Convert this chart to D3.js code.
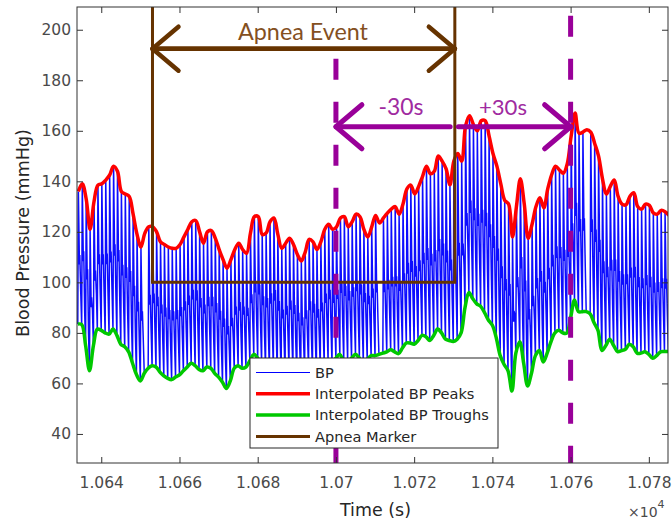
<!DOCTYPE html>
<html><head><meta charset="utf-8">
<script src="https://cdn.jsdelivr.net/npm/d3@7"></script>
<style>body{margin:0;background:#fff} svg{display:block}</style>
</head><body><svg id="c" width="672" height="523"></svg>
<script>
// ---------- data ----------
const beatStart = 10634;           // time of first beat (s), one beat per second
const peaks = [
 136,139,133,121,132,138.5,139,140.5,142.5,146,
 144,136,135,134,127,119,114,119.5,122,122,
 120,116,115,114,113.5,113.5,115,118,121,124,
 124.5,120,115.5,120,120.5,117.5,113,109,105.6,109,
 113,115.5,113,111.5,119.5,126,126,119,119.5,124,
 125.5,119,113.5,115.5,117.5,115,111,108.5,112,117,
 116,113,116,121,123,121,122,125.5,126,122,
 124,127,126,121,118,122,126.5,123.5,125.5,127.4,
 129,130,127,131,137,138.5,135,138,142,146,
 143,144,150,148,145,138.6,148,151,148,162,
 166,162.5,160,164,164,158,151,146,139,132.5,
 131,118,130,141,131,117.5,123,130,133.5,129.5,
 137,142.6,146,144.5,143.2,147,158,167,159,159.5,
 160.4,159.5,155,150,141,135,138,140.5,134,131,
 130.7,134,135.5,130,129,131,130.5,127.5,127,128.5,
 128,126.5];
const troughs = [
 83.5,83.3,75,65,75,81.5,81,80,79.5,81.5,
 79,75.5,74.5,72.5,68,63.5,61,64,66,67,
 66.5,64.5,63,62,61.5,62.5,63.4,65,66.5,68,
 67,65.5,65,66.5,66,64,62.5,60.5,58,61,
 66,67,66,66.5,69,71.5,70,68,66,65,
 66,64,63,64,66,65,63,62,64,66,
 65,64,66,68,69,68,70,71.5,69,69,
 70,71.5,70,68.5,69.5,71,71,71.5,72,72.5,
 73.3,72.5,71.8,74,76,76,75.5,77,79,78.5,
 77,79,81.5,80,77.5,77,76.6,77.5,80,90,
 96,93.5,91.5,90.5,88,85,83,78,71,67.5,
 65,57,72,76.5,68,59,64,71,73,68.5,
 72,76.6,80,81,80,79.9,86,93,88.4,88.4,
 88.4,87.5,84,81,73,75,77.5,75,72.6,73,
 73.5,75.5,74.5,72,72,72.5,71.5,70,71,72.5,
 72.6,72.6];
const gapBeats = [10651, 10711, 10764];
const apneaTimes = [10653.1, 10730.4];
const apneaBase = 100;
const apneaArrowLevel = 192.5;
const shiftTimes = [10700, 10760];
const shiftTop = [188.5, 205.5];
const shiftArrowLevel = 161.6;
const xTicks = [10640,10660,10680,10700,10720,10740,10760,10780];
const xTickLabels = ["1.064","1.066","1.068","1.07","1.072","1.074","1.076","1.078"];
const yTicks = [40,60,80,100,120,140,160,180,200];
const legendLabels = ["BP","Interpolated BP Peaks","Interpolated BP Troughs","Apnea Marker"];

// ---------- setup ----------
const svg = d3.select("#c");
const L=77, R=668, T=7, B=463;
const x = d3.scaleLinear().domain([10633.8,10784.9]).range([L,R]);
const y = d3.scaleLinear().domain([28.5,209]).range([B,T]);
const FONT = "'DejaVu Sans', Arial, sans-serif";
const AX = "#333";
const C = {bp:"#0000ff", pk:"#ff0000", tr:"#00c800", ap:"#663300", sh:"#990099"};

svg.append("defs").append("clipPath").attr("id","clip")
  .append("rect").attr("x",L).attr("y",T).attr("width",R-L).attr("height",B-T);
const plot = svg.append("g").attr("clip-path","url(#clip)");

// ---------- BP waveform ----------
const bpPts = [];
peaks.forEach((p,i)=>{
  const t = beatStart + i, tr = troughs[i];
  if (gapBeats.includes(t)) { bpPts.push({gap:true}); return; }
  const nt = i+1 < troughs.length ? troughs[i+1] : tr;
  bpPts.push({t:t, v:tr});
  bpPts.push({t:t+0.15, v:p});
  bpPts.push({t:t+0.3, v:tr+0.7*(p-tr)});
  bpPts.push({t:t+0.42, v:tr+0.45*(p-tr)});
  bpPts.push({t:t+0.52, v:tr+0.52*(p-tr)});
  bpPts.push({t:t+0.75, v:nt+0.25*(p-tr)});
  if (i+1 < troughs.length) bpPts.push({t:t+0.99, v:nt});
});
plot.append("path").datum(bpPts)
  .attr("d", d3.line().defined(d=>!d.gap).x(d=>x(d.t)).y(d=>y(d.v)))
  .attr("fill","none").attr("stroke",C.bp).attr("stroke-width",1.5).attr("stroke-opacity",0.95);

// ---------- envelopes ----------
const curve = d3.curveCatmullRom.alpha(0.5);
plot.append("path").datum(peaks)
  .attr("d", d3.line().curve(curve).x((d,i)=>x(beatStart+i+0.15)).y(d=>y(d)))
  .attr("fill","none").attr("stroke",C.pk).attr("stroke-width",3.5).attr("stroke-linejoin","round");
plot.append("path").datum(troughs)
  .attr("d", d3.line().curve(curve).x((d,i)=>x(beatStart+i)).y(d=>y(d)))
  .attr("fill","none").attr("stroke",C.tr).attr("stroke-width",3.5).attr("stroke-linejoin","round");

// ---------- apnea marker ----------
plot.append("path")
  .datum([[apneaTimes[0],230],[apneaTimes[0],apneaBase],[apneaTimes[1],apneaBase],[apneaTimes[1],230]])
  .attr("d", d3.line().x(d=>x(d[0])).y(d=>y(d[1])))
  .attr("fill","none").attr("stroke",C.ap).attr("stroke-width",3);

// ---------- shift dashed lines ----------
shiftTimes.forEach((t,i)=>{
  svg.append("line").attr("x1",x(t)).attr("x2",x(t)).attr("y1",y(shiftTop[i])).attr("y2",B)
    .attr("stroke",C.sh).attr("stroke-width",5).attr("stroke-dasharray","21,22");
});

// ---------- arrows ----------
function arrow(x0, x1, yy, color, w){ // from x0 to tip x1
  const g = svg.append("g").attr("fill","none").attr("stroke",color).attr("stroke-width",w)
    .attr("stroke-linecap","round").attr("stroke-linejoin","round");
  g.append("line").attr("x1",x0).attr("x2",x1).attr("y1",yy).attr("y2",yy);
  const s = x1 > x0 ? -1 : 1;
  g.append("path").attr("d",`M${x1+s*26},${yy-22}L${x1},${yy}L${x1+s*26},${yy+22}`);
}
const ay = y(apneaArrowLevel);
arrow(x(apneaTimes[1]), x(apneaTimes[0]), ay, C.ap, 4.5);
arrow(x(apneaTimes[0]), x(apneaTimes[1]), ay, C.ap, 4.5);
const sy = y(shiftArrowLevel);
arrow(x(apneaTimes[0]+76.1), x(shiftTimes[0]), sy, C.sh, 5);
arrow(x(apneaTimes[1]+0.9), x(shiftTimes[1]), sy, C.sh, 5);

function fitText(sel, w){
  const n = sel.node(); const cur = n.getComputedTextLength();
  const fs = parseFloat(sel.attr("font-size"));
  sel.attr("font-size", fs*w/cur);
  return sel;
}
const AF = "Lato, 'Open Sans', sans-serif";
fitText(svg.append("text").attr("x",303).attr("y",40).attr("text-anchor","middle")
  .attr("font-family",AF).attr("font-size",20).attr("fill","#84501f").text("Apnea Event"),130);
fitText(svg.append("text").attr("x",401).attr("y",115).attr("text-anchor","middle")
  .attr("font-family",AF).attr("font-size",20).attr("fill","#a02aa0").text("-30s"),45);
fitText(svg.append("text").attr("x",503).attr("y",115).attr("text-anchor","middle")
  .attr("font-family",AF).attr("font-size",20).attr("fill","#a02aa0").text("+30s"),48);

// ---------- axes ----------
const gx = svg.append("g").attr("transform",`translate(0,${B})`)
  .call(d3.axisBottom(x).tickValues(xTicks).tickFormat((d,i)=>xTickLabels[i])
    .tickSizeInner(-6).tickSizeOuter(0).tickPadding(14));
const gxt = svg.append("g").attr("transform",`translate(0,${T})`)
  .call(d3.axisTop(x).tickValues(xTicks).tickFormat("").tickSizeInner(-6).tickSizeOuter(0));
const gy = svg.append("g").attr("transform",`translate(${L},0)`)
  .call(d3.axisLeft(y).tickValues(yTicks).tickSizeInner(-6).tickSizeOuter(0).tickPadding(6));
const gyr = svg.append("g").attr("transform",`translate(${R},0)`)
  .call(d3.axisRight(y).tickValues(yTicks).tickFormat("").tickSizeInner(-6).tickSizeOuter(0));
[gx,gxt,gy,gyr].forEach(g=>{
  g.select(".domain").remove();
  g.selectAll("line").attr("stroke",AX);
  g.selectAll("text").attr("font-family",FONT).attr("font-size",15.5).attr("fill","#4a4a4a");
});
svg.append("rect").attr("x",L).attr("y",T).attr("width",R-L).attr("height",B-T)
  .attr("fill","none").attr("stroke",AX).attr("stroke-width",1);

fitText(svg.append("text").attr("x",375.5).attr("y",516).attr("text-anchor","middle")
  .attr("font-family",FONT).attr("font-size",16).attr("fill","#262626").text("Time (s)"),71);
fitText(svg.append("text").attr("transform","translate(29,233) rotate(-90)").attr("text-anchor","middle")
  .attr("font-family",FONT).attr("font-size",16).attr("fill","#262626").text("Blood Pressure (mmHg)"),208);
const ex = svg.append("text").attr("x",628).attr("y",517).attr("font-family",FONT)
  .attr("font-size",14).attr("fill","#4a4a4a");
ex.append("tspan").text("×10");
ex.append("tspan").attr("dy",-9).attr("font-size",11).text("4");

// ---------- legend ----------
const lg = svg.append("g");
lg.append("rect").attr("x",250).attr("y",358).attr("width",248).attr("height",90)
  .attr("fill","#fff").attr("stroke","#262626").attr("stroke-width",1);
const lcol = [C.bp, C.pk, C.tr, C.ap], lw = [1,3.5,3.5,3];
const ltexts = [];
legendLabels.forEach((t,i)=>{
  const yy = 372.5 + i*21.3;
  lg.append("line").attr("x1",256).attr("x2",310).attr("y1",yy).attr("y2",yy)
    .attr("stroke",lcol[i]).attr("stroke-width",lw[i]);
  ltexts.push(lg.append("text").attr("x",315).attr("y",yy).attr("dy","0.36em").attr("font-family",FONT)
    .attr("font-size",13.5).attr("fill","#262626").text(t));
});
const maxW = d3.max(ltexts, s=>s.node().getComputedTextLength());
const lfs = 13.5*174/maxW;
ltexts.forEach(s=>s.attr("font-size",lfs));
</script></body></html>
